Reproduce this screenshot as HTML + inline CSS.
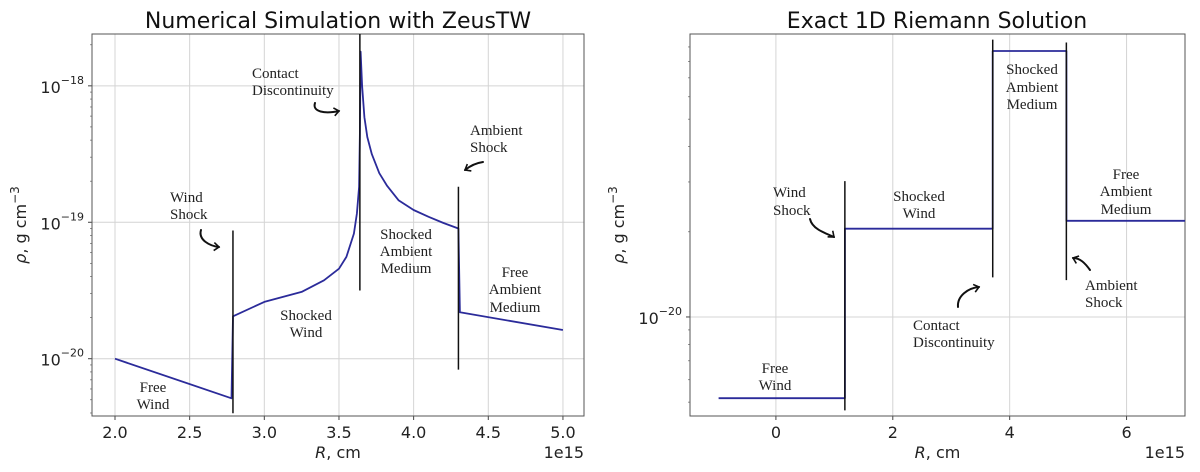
<!DOCTYPE html>
<html><head><meta charset="utf-8"><style>
html,body{margin:0;padding:0;background:#fff;}
svg{display:block;font-family:"DejaVu Sans","Liberation Sans",sans-serif;}
.ann{font-family:"Liberation Serif",serif;font-size:15px;fill:#222;}
.tick{font-size:16px;fill:#222;}
.title{font-size:22px;fill:#111;}
</style></head><body>
<svg id="chart" width="1200" height="472" viewBox="0 0 1200 472" xmlns="http://www.w3.org/2000/svg">
<g id="left"></g>
<g id="right"></g>
</svg>
<script>
// Left panel data (R in 1e15 cm, log10 density)
const simR = [2.0, 2.78, 2.79, 3.0, 3.25, 3.4, 3.5, 3.55, 3.6, 3.62, 3.635, 3.64, 3.645, 3.655, 3.67, 3.69, 3.72, 3.77, 3.82, 3.9, 4.0, 4.1, 4.2, 4.3, 4.31, 5.0];
const simLogRho = [-20.0, -20.29, -19.689, -19.584, -19.51, -19.425, -19.34, -19.254, -19.083, -18.936, -18.74, -18.35, -17.75, -18.0, -18.23, -18.375, -18.50, -18.64, -18.73, -18.84, -18.91, -18.96, -19.005, -19.046, -19.66, -19.79];
const simShocks = [2.79, 3.64, 4.30];
const simShockTop = [-19.06, -17.62, -18.74];
const simShockBot = [-20.40, -19.50, -20.08];
const leftXTicks = [2.0, 2.5, 3.0, 3.5, 4.0, 4.5, 5.0];
const leftXLabels = ["2.0","2.5","3.0","3.5","4.0","4.5","5.0"];
const leftYTicks = [-18, -19, -20];
// Right panel data
const exR = [-0.98, 1.18, 1.18, 3.71, 3.71, 4.97, 4.97, 7.0];
const exLogRho = [-20.287, -20.287, -19.688, -19.688, -19.06, -19.06, -19.66, -19.66];
const exShocks = [1.18, 3.71, 4.97];
const exShockTop = [-19.52, -19.02, -19.03];
const exShockBot = [-20.33, -19.86, -19.87];
const rightXTicks = [0, 2, 4, 6];
const rightYTicks = [-20];

const NS = "http://www.w3.org/2000/svg";
function mk(parent, tag, attrs, text){
  const e = document.createElementNS(NS, tag);
  for (const k in attrs) e.setAttribute(k, attrs[k]);
  if (text !== undefined) e.textContent = text;
  parent.appendChild(e); return e;
}
function drawPanel(gid, box, xd, yd, xt, xl, yt, R, L, sh, st, sb, title, titleX){
  const g = document.getElementById(gid);
  const sx = v => box.x0 + (v - xd[0]) / (xd[1] - xd[0]) * (box.x1 - box.x0);
  const sy = v => box.y1 - (v - yd[0]) / (yd[1] - yd[0]) * (box.y1 - box.y0);
  xt.forEach((v,i)=>{
    const l = mk(g,'line',{x1:sx(v),x2:sx(v),y1:box.y0,y2:box.y1,stroke:'#d4d4d4','stroke-width':1});
    
    
    mk(g,'line',{x1:sx(v),x2:sx(v),y1:box.y1,y2:box.y1+4,stroke:'#444'});
    const t = mk(g,'text',{x:sx(v),y:box.y1+22,'text-anchor':'middle',class:'tick'}, xl[i]);
    
    
  });
  yt.forEach(v=>{
    const l = mk(g,'line',{x1:box.x0,x2:box.x1,y1:sy(v),y2:sy(v),stroke:'#d4d4d4','stroke-width':1});
    
    
    mk(g,'line',{x1:box.x0-4,x2:box.x0,y1:sy(v),y2:sy(v),stroke:'#444'});
    const t = mk(g,'text',{x:box.x0-8,y:sy(v)+7,'text-anchor':'end',class:'tick'});
    
    
    t.appendChild(document.createTextNode('10'));
    mk(t,'tspan',{dy:-9,'font-size':'11px'}, '\u2212'+(-v));
  });
  for (let d = Math.floor(yd[0]); d < yd[1]; d++){
    for (let m = 2; m <= 9; m++){
      const v = d + Math.log10(m);
      if (v > yd[0] && v < yd[1]) mk(g,'line',{x1:box.x0-2,x2:box.x0,y1:sy(v),y2:sy(v),stroke:'#666','stroke-width':0.7});
    }
  }
  const fr = mk(g,'rect',{x:box.x0,y:box.y0,width:box.x1-box.x0,height:box.y1-box.y0,fill:'none',stroke:'#555','stroke-width':1});
  
  
  const pts = R.map((r,i)=>sx(r).toFixed(1)+','+sy(L[i]).toFixed(1)).join(' ');
  const pl = mk(g,'polyline',{points:pts,fill:'none',stroke:'#2b2b9a','stroke-width':1.8,'stroke-linejoin':'round'});
  
  
  sh.forEach((r,i)=>{
    const l = mk(g,'line',{x1:sx(r),x2:sx(r),y1:sy(st[i]),y2:sy(sb[i]),stroke:'#111','stroke-width':1.5});
    
    
  });
  const tt = mk(g,'text',{x:titleX,y:28,'text-anchor':'middle',class:'title'}, title);
  
  
  const xa = mk(g,'text',{x:(box.x0+box.x1)/2,y:458,'text-anchor':'middle',class:'tick','font-size':'17px'});
  
  
  mk(xa,'tspan',{'font-style':'italic'},'R');
  xa.appendChild(document.createTextNode(', cm'));
  const ex = mk(g,'text',{x:box.x1,y:458,'text-anchor':'end',class:'tick'},'1e15');
  
  
  const yl = mk(g,'text',{x:0,y:0,transform:`translate(${box.x0-66},${(box.y0+box.y1)/2}) rotate(-90)`,'text-anchor':'middle',class:'tick','font-size':'17px'});
  
  
  mk(yl,'tspan',{'font-style':'italic'},'\u03C1');
  yl.appendChild(document.createTextNode(', g cm'));
  mk(yl,'tspan',{dy:-7,'font-size':'12px'},'\u22123');
}
function ann(gid, lines, x, ys, anchor){
  const g = document.getElementById(gid);
  const t = mk(g,'text',{class:'ann','text-anchor':anchor});
  
  
  lines.forEach((s,i)=>mk(t,'tspan',{x:x,y:ys[i]+5},s));
}
function arrow(gid, d, hx, hy, ang){
  const g = document.getElementById(gid);
  const p = mk(g,'path',{d:d,fill:'none',stroke:'#111','stroke-width':2,'stroke-linecap':'round'});
  
  
  mk(g,'path',{d:'M-5,-4 L0,0 L-5,4',fill:'none',stroke:'#111','stroke-width':1.6,transform:`translate(${hx},${hy}) rotate(${ang})`});
}
drawPanel('left',{x0:92,x1:584,y0:34,y1:416},[1.846,5.141],[-20.42,-17.62],leftXTicks,leftXLabels,leftYTicks,simR,simLogRho,simShocks,simShockTop,simShockBot,'Numerical Simulation with ZeusTW',338);
drawPanel('right',{x0:690,x1:1185,y0:34,y1:416},[-1.47,7.0],[-20.35,-19.0],rightXTicks,rightXTicks.map(String),rightYTicks,exR,exLogRho,exShocks,exShockTop,exShockBot,'Exact 1D Riemann Solution',937);
ann('left',['Contact','Discontinuity'],252,[73,90],'start');
arrow('left','M315,103 C312,112 325,114 339,111',339,111,-10);
ann('left',['Ambient','Shock'],470,[130,147],'start');
arrow('left','M483,162 C476,163 470,166 465,170',465,170,150);
ann('left',['Wind','Shock'],170,[197,214],'start');
arrow('left','M201,230 C198,240 210,246 219,247',219,247,5);
ann('left',['Shocked','Ambient','Medium'],406,[234,251,268],'middle');
ann('left',['Free','Ambient','Medium'],515,[272,289,307],'middle');
ann('left',['Shocked','Wind'],306,[315,332],'middle');
ann('left',['Free','Wind'],153,[387,404],'middle');
ann('right',['Wind','Shock'],773,[192,210],'start');
arrow('right','M810,219 C812,228 822,232 834,237',834,237,40);
ann('right',['Shocked','Wind'],919,[196,213],'middle');
ann('right',['Shocked','Ambient','Medium'],1032,[69,87,104],'middle');
ann('right',['Free','Ambient','Medium'],1126,[174,191,209],'middle');
ann('right',['Ambient','Shock'],1085,[285,302],'start');
arrow('right','M1090,270 C1085,263 1080,258 1073,258',1073,258,200);
ann('right',['Contact','Discontinuity'],913,[325,342],'start');
arrow('right','M958,307 C957,296 968,288 979,287',979,287,-15);
ann('right',['Free','Wind'],775,[368,385],'middle');
</script>
</body></html>
